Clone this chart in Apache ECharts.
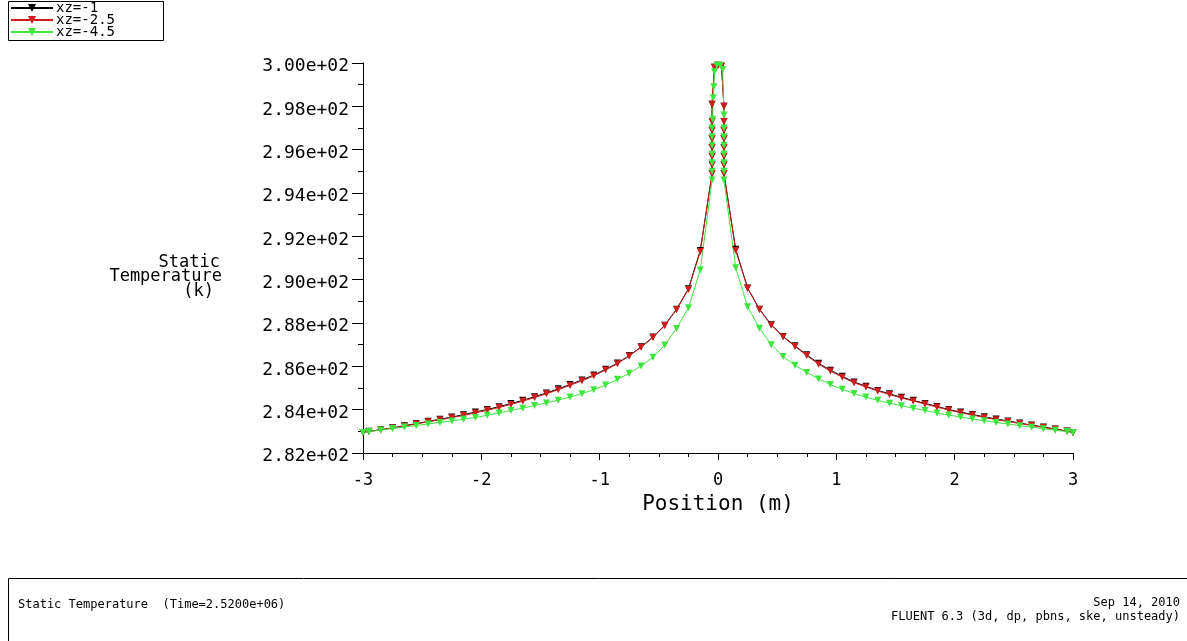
<!DOCTYPE html>
<html>
<head>
<meta charset="utf-8">
<script src="https://cdn.jsdelivr.net/npm/echarts@6/dist/echarts.min.js"></script>
<style>
  html, body { margin: 0; padding: 0; background: #fff; }
  #chart { width: 1187px; height: 641px; }
</style>
</head>
<body>
<div id="chart"></div>
<script>
// Sample positions along each line (m)
const xLeft = [-3.0, -2.95, -2.85, -2.75, -2.65, -2.55, -2.45, -2.35, -2.25, -2.15,
               -2.05, -1.95, -1.85, -1.75, -1.65, -1.55, -1.45, -1.35, -1.25, -1.15,
               -1.05, -0.95, -0.85, -0.75, -0.65, -0.55, -0.45, -0.35, -0.25, -0.15];
const xRight = [0.15, 0.25, 0.35, 0.45, 0.55, 0.65, 0.75, 0.85, 0.95, 1.05,
                1.15, 1.25, 1.35, 1.45, 1.55, 1.65, 1.75, 1.85, 1.95, 2.05,
                2.15, 2.25, 2.35, 2.45, 2.55, 2.65, 2.75, 2.85, 2.95, 3.0];

// Static temperature (K), xz = -1
const tempZ1Left = [282.95, 283.00, 283.08, 283.16, 283.26, 283.36, 283.46, 283.56, 283.66, 283.77,
                    283.89, 284.01, 284.14, 284.28, 284.43, 284.60, 284.77, 284.96, 285.16, 285.37,
                    285.60, 285.86, 286.15, 286.50, 286.90, 287.35, 287.90, 288.64, 289.58, 291.35];
const tempZ1Core = [[-0.05, 294.9], [-0.05, 295.3], [-0.05, 295.7], [-0.05, 296.1], [-0.05, 296.5],
                    [-0.05, 296.9], [-0.05, 297.3], [-0.05, 298.1], [-0.03, 299.8], [0.0, 299.9],
                    [0.03, 299.85], [0.05, 298.0], [0.05, 297.3], [0.05, 296.9], [0.05, 296.5],
                    [0.05, 296.1], [0.05, 295.7], [0.05, 295.3], [0.05, 294.9]];
const tempZ1Right = [291.40, 289.62, 288.64, 287.92, 287.38, 286.95, 286.53, 286.14, 285.82, 285.54,
                     285.28, 285.08, 284.89, 284.73, 284.57, 284.43, 284.29, 284.15, 284.01, 283.89,
                     283.78, 283.67, 283.57, 283.48, 283.38, 283.29, 283.20, 283.11, 283.01, 282.95];

// Static temperature (K), xz = -2.5
const tempZ25Left = [282.95, 282.99, 283.07, 283.15, 283.24, 283.34, 283.44, 283.53, 283.63, 283.73,
                     283.85, 283.97, 284.10, 284.24, 284.39, 284.56, 284.73, 284.92, 285.12, 285.33,
                     285.56, 285.83, 286.12, 286.48, 286.88, 287.33, 287.88, 288.62, 289.55, 291.30];
const tempZ25Core = [[-0.05, 294.9], [-0.05, 295.3], [-0.05, 295.7], [-0.05, 296.1], [-0.05, 296.5],
                     [-0.05, 296.9], [-0.05, 297.3], [-0.05, 298.1], [-0.03, 299.8], [0.0, 299.9],
                     [0.03, 299.85], [0.05, 298.0], [0.05, 297.3], [0.05, 296.9], [0.05, 296.5],
                     [0.05, 296.1], [0.05, 295.7], [0.05, 295.3], [0.05, 294.9]];
const tempZ25Right = [291.35, 289.60, 288.62, 287.90, 287.36, 286.92, 286.50, 286.10, 285.78, 285.50,
                      285.24, 285.05, 284.86, 284.70, 284.54, 284.40, 284.26, 284.12, 283.98, 283.86,
                      283.75, 283.64, 283.54, 283.45, 283.36, 283.27, 283.18, 283.10, 283.00, 282.95];

// Static temperature (K), xz = -4.5
const tempZ45Left = [282.95, 282.99, 283.06, 283.13, 283.20, 283.27, 283.34, 283.41, 283.48, 283.56,
                     283.64, 283.74, 283.85, 283.96, 284.07, 284.19, 284.31, 284.44, 284.58, 284.74,
                     284.92, 285.14, 285.40, 285.68, 286.02, 286.42, 286.98, 287.75, 288.70, 290.45];
const tempZ45Core = [[-0.05, 294.6], [-0.05, 295.0], [-0.05, 295.4], [-0.05, 295.8], [-0.05, 296.2],
                     [-0.05, 296.6], [-0.05, 297.0], [-0.045, 297.4], [-0.04, 298.4], [-0.035, 298.9],
                     [-0.03, 299.6], [-0.01, 299.9], [0.02, 299.9], [0.04, 299.7], [0.05, 297.6],
                     [0.05, 297.0], [0.05, 296.6], [0.05, 296.2], [0.05, 295.8], [0.05, 295.4],
                     [0.05, 295.0], [0.05, 294.6]];
const tempZ45Right = [290.55, 288.75, 287.76, 287.00, 286.45, 286.05, 285.72, 285.42, 285.16, 284.94,
                      284.75, 284.58, 284.43, 284.30, 284.18, 284.07, 283.96, 283.85, 283.75, 283.66,
                      283.57, 283.49, 283.41, 283.34, 283.26, 283.19, 283.12, 283.05, 282.99, 282.95];

const seriesNames = ['xz=-1', 'xz=-2.5', 'xz=-4.5'];
const yTickLabels = ['2.82e+02', '2.84e+02', '2.86e+02', '2.88e+02', '2.90e+02',
                     '2.92e+02', '2.94e+02', '2.96e+02', '2.98e+02', '3.00e+02'];
const xTickLabels = ['-3', '-2', '-1', '0', '1', '2', '3'];

function buildLine(left, core, right) {
  const pts = [];
  xLeft.forEach((x, i) => pts.push([x, left[i]]));
  core.forEach(p => pts.push(p));
  xRight.forEach((x, i) => pts.push([x, right[i]]));
  return pts;
}

const FONT = 'DejaVu Sans Mono';
const colors = ['#000000', '#d01c1c', '#3ce63c'];

function lineSeries(name, data, color) {
  return {
    name: name,
    type: 'line',
    data: data,
    symbol: 'triangle',
    symbolRotate: 180,
    symbolSize: 7,
    showAllSymbol: true,
    animation: false,
    lineStyle: { color: color, width: 1 },
    itemStyle: { color: color }
  };
}

const chart = echarts.init(document.getElementById('chart'), null, { renderer: 'canvas' });

chart.setOption({
  backgroundColor: '#ffffff',
  animation: false,
  color: colors,
  grid: { left: 363, right: 114, top: 63, bottom: 188, containLabel: false },
  legend: {
    data: seriesNames,
    orient: 'vertical',
    left: 10,
    top: 1,
    padding: 0,
    itemGap: -2,
    itemWidth: 42,
    itemHeight: 10,
    textStyle: { fontFamily: FONT, fontSize: 14, lineHeight: 12, color: '#000', padding: [0, 0, 0, -2] },
    selectedMode: false
  },
  xAxis: {
    type: 'value',
    min: -3,
    max: 3,
    interval: 1,
    name: 'Position (m)',
    nameLocation: 'middle',
    nameGap: 40,
    nameTextStyle: { fontFamily: FONT, fontSize: 21, color: '#000' },
    axisLine: { onZero: false, lineStyle: { color: '#000', width: 1 } },
    axisTick: { show: true, length: 7, lineStyle: { color: '#000' } },
    minorTick: { show: true, splitNumber: 4, length: 4, lineStyle: { color: '#000' } },
    splitLine: { show: false },
    axisLabel: {
      fontFamily: FONT, fontSize: 17, color: '#000', margin: 19,
      formatter: (v) => xTickLabels[Math.round(v) + 3]
    }
  },
  yAxis: {
    type: 'value',
    min: 282,
    max: 300,
    interval: 2,
    axisLine: { show: true, onZero: false, lineStyle: { color: '#000', width: 1 } },
    axisTick: { show: true, length: 11, lineStyle: { color: '#000' } },
    minorTick: { show: true, splitNumber: 2, length: 5, lineStyle: { color: '#000' } },
    splitLine: { show: false },
    axisLabel: {
      color: '#000', margin: 14,
      formatter: (v) => '{t|' + yTickLabels[Math.round((v - 282) / 2)] + '}',
      rich: {
        t: { fontFamily: FONT, fontSize: 18, color: '#000', padding: [7, 0, 0, 0] }
      }
    }
  },
  graphic: [
    { type: 'rect', shape: { x: 8.5, y: 1.5, width: 155, height: 39 },
      style: { fill: 'none', stroke: '#000', lineWidth: 1 }, z: 10 },
    { type: 'text',
      style: { text: 'Static', font: '17px ' + FONT, fill: '#000', textAlign: 'right' },
      x: 220, y: 254, z: 10 },
    { type: 'text',
      style: { text: 'Temperature', font: '17px ' + FONT, fill: '#000', textAlign: 'right' },
      x: 222, y: 268, z: 10 },
    { type: 'text',
      style: { text: '(k)', font: '17px ' + FONT, fill: '#000', textAlign: 'right' },
      x: 214, y: 283, z: 10 },
    { type: 'rect', shape: { x: 8.5, y: 578.5, width: 1200, height: 100 },
      style: { fill: 'none', stroke: '#000', lineWidth: 1 }, z: 10 },
    { type: 'text',
      style: { text: 'Static Temperature  (Time=2.5200e+06)', font: '12px ' + FONT, fill: '#000' },
      x: 18, y: 599, z: 10 },
    { type: 'text',
      style: { text: 'Sep 14, 2010', font: '12px ' + FONT, fill: '#000', textAlign: 'right' },
      x: 1180, y: 597, z: 10 },
    { type: 'text',
      style: { text: 'FLUENT 6.3 (3d, dp, pbns, ske, unsteady)', font: '12px ' + FONT, fill: '#000', textAlign: 'right' },
      x: 1180, y: 611, z: 10 }
  ],
  series: [
    lineSeries(seriesNames[0], buildLine(tempZ1Left, tempZ1Core, tempZ1Right), colors[0]),
    lineSeries(seriesNames[1], buildLine(tempZ25Left, tempZ25Core, tempZ25Right), colors[1]),
    lineSeries(seriesNames[2], buildLine(tempZ45Left, tempZ45Core, tempZ45Right), colors[2])
  ]
});
</script>
</body>
</html>
